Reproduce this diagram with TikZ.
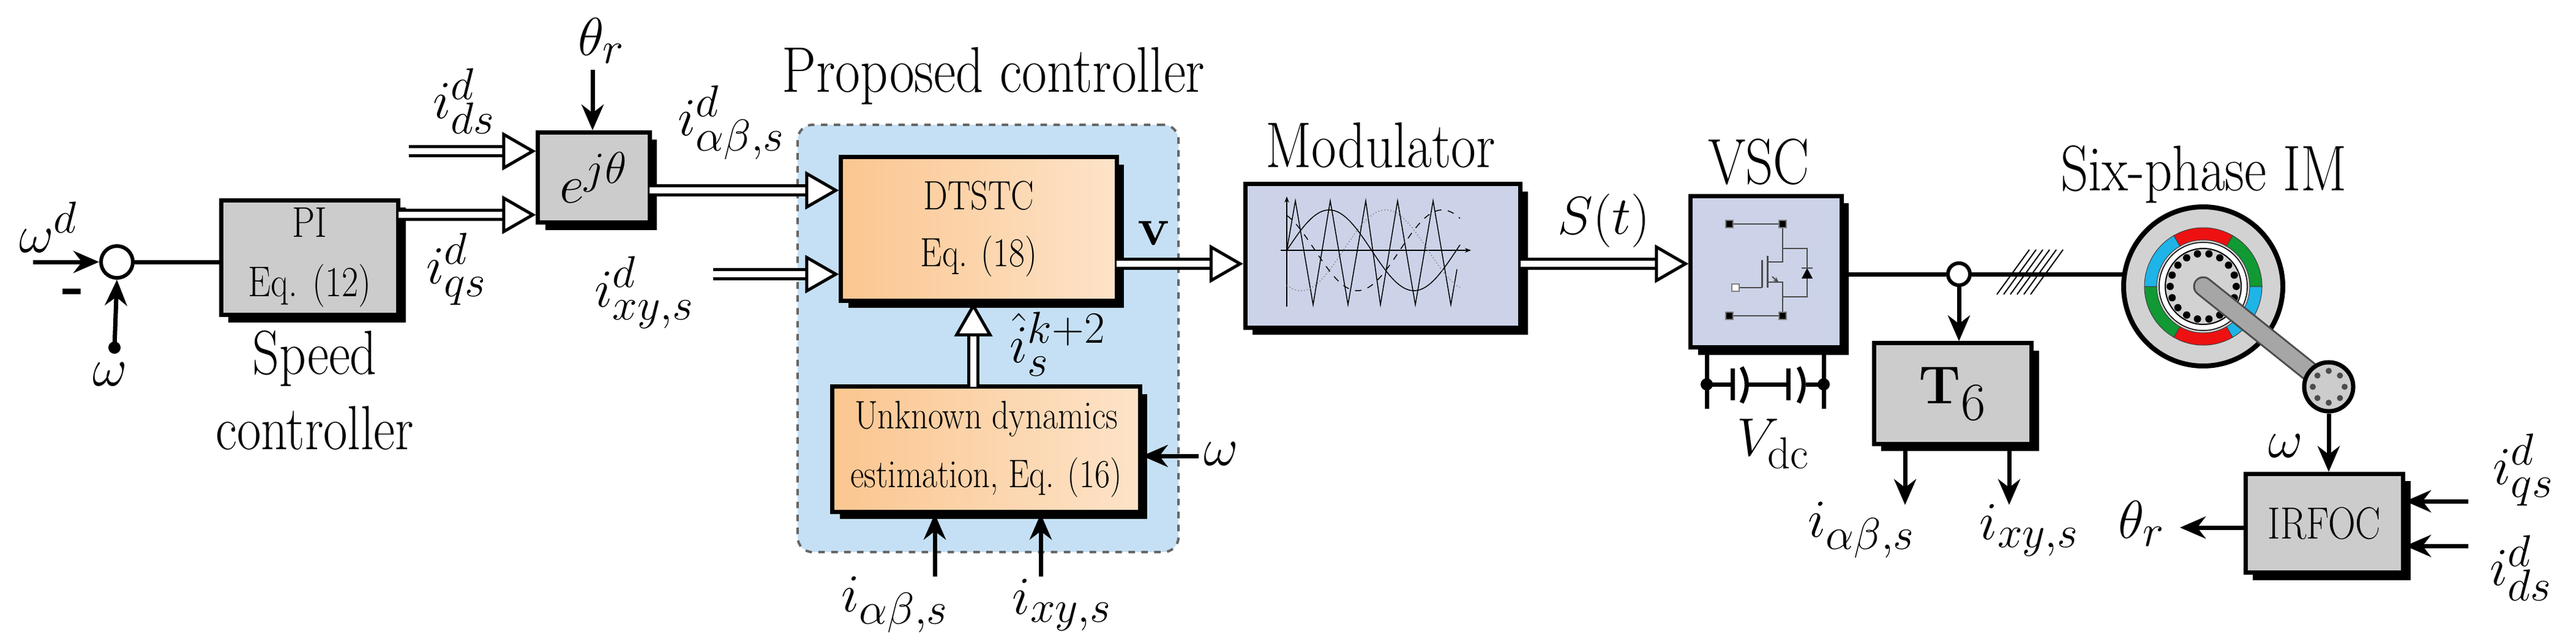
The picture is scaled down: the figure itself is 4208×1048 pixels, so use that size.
\documentclass[tikz,border=0pt]{standalone}
\usetikzlibrary{arrows.meta,shadows,calc}
\definecolor{bluebg}{HTML}{C5E0F5}
\definecolor{lav}{HTML}{CCD3E8}
\definecolor{org}{HTML}{FBC690}
\definecolor{orgl}{HTML}{FDE3C8}
\definecolor{cy}{HTML}{1EB4E8}
\definecolor{gr}{HTML}{119933}
\definecolor{rd}{HTML}{EE1111}
\newcommand{\nx}[1]{\scalebox{0.84}[1]{#1}}
\begin{document}
\begin{tikzpicture}[x=0.01cm,y=-0.01cm,
  box/.style={draw=black,line width=0.07cm,drop shadow={shadow xshift=0.12cm,shadow yshift=-0.12cm,opacity=1,fill=black},inner sep=0pt},
  gbox/.style={box,fill=gray!40},
  obox/.style={box,left color=org,middle color=white,right color=orgl,shading angle=90},
  arr/.style={line width=0.07cm,-{Stealth[length=0.42cm,width=0.36cm]}},
  dbl/.style={line width=0.05cm,double=white,double distance=0.1cm,-{Triangle[open,fill=white,length=0.55cm,width=0.62cm,line width=0.05cm]}},
  ln/.style={line width=0.07cm},
  mt/.style={font=\fontsize{28}{32}\selectfont},
  tt/.style={font=\fontsize{30}{34}\selectfont},
]
\useasboundingbox (0,0) rectangle (4208,1048);
\fill[white] (0,0) rectangle (4208,1048);
% blue region
\node[draw=gray!80!black,dashed,line width=0.04cm,fill=bluebg,rounded corners=0.25cm,minimum width=6.22cm,minimum height=6.98cm] (pc) at (1614,553) {};
\node[tt] (pclab) at (1623,124) {\nx{Proposed controller}};
% boxes
\node[gbox,minimum width=2.89cm,minimum height=1.87cm,align=center,font=\fontsize{20}{27.5}\selectfont] (PI) at (506,421) {\nx{PI}\\\nx{Eq. (12)}};
\node[gbox,minimum width=1.82cm,minimum height=1.47cm,font=\fontsize{32}{34}\selectfont] (ejt) at (970,290) {$e^{j\theta}$};
\node[obox,minimum width=4.5cm,minimum height=2.34cm,align=center,font=\fontsize{19}{26.5}\selectfont] (dt) at (1599,374) {\nx{DTSTC}\\\nx{Eq. (18)}};
\node[obox,minimum width=5.02cm,minimum height=2.04cm,align=center,font=\fontsize{18.5}{27.5}\selectfont] (ude) at (1611,734) {\nx{Unknown dynamics}\\\nx{estimation, Eq. (16)}};
\node[box,fill=lav,minimum width=4.49cm,minimum height=2.34cm] (mod) at (2259,418) {};
\node[box,fill=lav,minimum width=2.46cm,minimum height=2.47cm] (vsc) at (2885,444) {};
\node[gbox,minimum width=2.57cm,minimum height=1.64cm,font=\fontsize{34}{38}\selectfont] (t6) at (3190,643) {$\mathbf{T}_{\mathrm{6}}$};
\node[gbox,minimum width=2.57cm,minimum height=1.61cm,font=\fontsize{21}{22}\selectfont] (irf) at (3797,855) {\nx{IRFOC}};
% labels
\node[tt] at (2255,237) {\nx{Modulator}};
\node[tt] at (2873,264) {\nx{VSC}};
\node[tt] at (3600,285) {\nx{Six-phase IM}};
\node[tt,align=center,font=\fontsize{29}{35}\selectfont] at (514,638) {\nx{Speed}\\\nx{controller}};
% summing junction
\node[circle,draw,line width=0.06cm,fill=white,minimum size=0.52cm,inner sep=0pt] (sum) at (191,428) {};
\coordinate (wd) at (54,428);
\coordinate (w1) at (187,568);
\draw[arr] (wd) -- (sum.west);
\draw[arr] (w1) -- (sum.south);
\fill (w1) circle (10);
\node[mt] at (79,371) {$\omega^d$};
\node[font=\bfseries\fontsize{28}{28}\selectfont] at (120,485) {-};
\node[mt] at (180,612) {$\omega$};
\draw[ln] (sum.east) -- (sum.east -| PI.west);
% PI -> ejt
\coordinate (qs) at (651,351);
\draw[dbl] (qs) -- (qs -| ejt.west);
\node[mt] at (746,440) {$i^d_{qs}$};
\coordinate (ds) at (668,247);
\draw[dbl] (ds) -- (ds -| ejt.west);
\node[mt] at (758,165) {$i^d_{ds}$};
\coordinate (th) at (968,114);
\draw[arr] (th) -- (th |- ejt.north);
\node[mt] at (982,67) {$\theta_r$};
% ejt -> dtstc
\coordinate (ab) at (1061,311);
\draw[dbl] (ab) -- (ab -| dt.west);
\node[mt] at (1195,200) {$i^d_{\alpha\beta,s}$};
\coordinate (xy) at (1165,448);
\draw[dbl] (xy) -- (xy -| dt.west);
\node[mt] at (1053,478) {$i^d_{xy,s}$};
% dtstc -> mod
\coordinate (vv) at (1824,431);
\draw[dbl] (vv) -- (vv -| mod.west);
\node[font=\fontsize{28}{30}\selectfont] at (1885,381) {$\mathbf{v}$};
% ude -> dtstc
\coordinate (hat) at (1590,632);
\draw[dbl] (hat) -- (hat |- dt.south);
\node[mt] at (1728,562) {$\hat{i}_s^{k+2}$};
\coordinate (wu) at (1958,745);
\draw[arr] (wu) -- (wu -| ude.east);
\node[mt] at (1995,742) {$\omega$};
\coordinate (b1) at (1527,942);
\coordinate (b2) at (1700,942);
\draw[arr] (b1) -- (b1 |- ude.south);
\draw[arr] (b2) -- (b2 |- ude.south);
\node[mt] at (1462,988) {$i_{\alpha\beta,s}$};
\node[mt] at (1735,988) {$i_{xy,s}$};
% mod -> vsc
\coordinate (st) at (2484,431);
\draw[dbl] (st) -- (st -| vsc.west);
\node[mt] at (2620,361) {$S(t)$};
% modulator waveforms
\draw[line width=0.015cm,-{Stealth[length=0.1cm]}] (2102,501) -- (2102,321);
\draw[line width=0.015cm,-{Stealth[length=0.1cm]}] (2092,409) -- (2403,409);
\draw[line width=0.015cm] (2102,409) -- (2116,328) -- (2145,498) -- (2173,328) -- (2202,498) -- (2231,328) -- (2255,498) -- (2283,328) -- (2312,498) -- (2341,328) -- (2370,498) -- (2380,440);
\draw[line width=0.015cm,domain=0:283,samples=80] plot ({2102+\x},{409-66*sin(1.2996*\x)});
\draw[line width=0.015cm,dashed,domain=0:283,samples=80] plot ({2102+\x},{409-66*sin(1.2996*\x+120)});
\draw[line width=0.015cm,densely dotted,gray,domain=0:283,samples=80] plot ({2102+\x},{409-66*sin(1.2996*\x-120)});
% VSC interior
\begin{scope}[gray!60!black,line width=0.02cm]
\draw (2825,366) -- (2912,366) -- (2912,406) -- (2952,406) -- (2952,485) -- (2912,485) -- (2912,516) -- (2825,516);
\draw (2912,406) -- (2912,428) -- (2887,428);
\draw (2912,485) -- (2912,461) -- (2887,461);
\draw[line width=0.03cm] (2887,418) -- (2887,470);
\draw[line width=0.03cm] (2878,425) -- (2878,470);
\draw (2835,470) -- (2878,470);
\draw[-{Stealth[length=0.1cm]}] (2895,452) -- (2906,462);
\fill[black] (2952,438) -- (2943,455) -- (2961,455) -- cycle;
\draw (2943,438) -- (2961,438);
\end{scope}
\foreach \p in {(2825,366),(2912,366),(2825,516),(2912,516)} \filldraw[fill=black,draw=gray] \p ++(-6,-6) rectangle ++(12,12);
\filldraw[fill=white,draw=gray] (2835,470) ++(-6,-6) rectangle ++(12,12);
% dc link
\coordinate (c1) at (2788,568);
\coordinate (c2) at (2979,568);
\draw[ln] (c1) -- (2788,668);
\draw[ln] (c2) -- (2979,668);
\draw[ln] (2788,628) -- (2830,628) (2854,628) -- (2921,628) (2950,628) -- (2979,628);
\draw[ln] (2830,602) -- (2830,654) (2921,602) -- (2921,654);
\draw[ln] (2845,600) .. controls (2856,620) and (2856,636) .. (2845,658);
\draw[ln] (2938,600) .. controls (2949,620) and (2949,636) .. (2938,658);
\fill (2788,628) circle (10) (2979,628) circle (10);
\node[mt] at (2897,725) {$V_{\mathrm{dc}}$};
% motor
\coordinate (mc) at (3599,468);
\filldraw[fill=gray!35,line width=0.08cm] (mc) circle (130);
\foreach \a/\c in {0/cy,60/rd,120/gr,180/cy,240/rd,300/gr}
  \filldraw[fill=\c,draw=gray!50!black,line width=0.01cm] ($(mc)+(\a:96)$) arc[start angle=\a,end angle=\a+60,radius=96] -- ($(mc)+(\a+60:76)$) arc[start angle=\a+60,end angle=\a,radius=76] -- cycle;
\filldraw[fill=white,draw=black,line width=0.015cm] (mc) circle (72);
\filldraw[fill=gray!35,draw=black,line width=0.02cm] (mc) circle (62);
\foreach \a in {0,20,...,340} \fill ($(mc)+(\a:54)$) circle (6);
\coordinate (enc) at (3804,632);
\draw[line width=0.33cm,black!70,line cap=round] (mc) -- (enc);
\draw[line width=0.27cm,gray!70,line cap=round] (mc) -- (enc);
\node[circle,draw,line width=0.07cm,fill=gray!40,minimum size=0.8cm,inner sep=0pt] (en) at (enc) {};
\foreach \a in {0,45,...,315} \fill[black!70] ($(enc)+(\a:26)$) circle (5);
\draw[arr] (en.south) -- (irf.north -| en.south);
\node[mt] at (3734,729) {$\omega$};
% vsc -> motor
\node[circle,draw,line width=0.06cm,fill=white,minimum size=0.36cm,inner sep=0pt] (node) at (3200,448) {};
\draw[ln] (vsc.east |- node) -- (node.west);
\draw[ln] (node.east) -- (3470,448);
\foreach \i in {0,...,5} \draw[line width=0.02cm] (3262+\i*11,481) -- (3315+\i*11,408);
\draw[arr] (node.south) -- (node |- t6.north);
\coordinate (o1) at (3112,825);
\coordinate (o2) at (3282,825);
\draw[arr] (o1 |- t6.south) -- (o1);
\draw[arr] (o2 |- t6.south) -- (o2);
\node[mt] at (3041,866) {$i_{\alpha\beta,s}$};
\node[mt] at (3315,866) {$i_{xy,s}$};
% irfoc
\coordinate (thr) at (3561,862);
\draw[arr] (irf.west |- thr) -- (thr);
\node[mt] at (3498,856) {$\theta_r$};
\coordinate (q1) at (4032,819);
\coordinate (q2) at (4032,892);
\draw[arr] (q1) -- (q1 -| irf.east);
\draw[arr] (q2) -- (q2 -| irf.east);
\node[mt] at (4122,768) {$i^d_{qs}$};
\node[mt] at (4118,928) {$i^d_{ds}$};
\end{tikzpicture}
\end{document}
